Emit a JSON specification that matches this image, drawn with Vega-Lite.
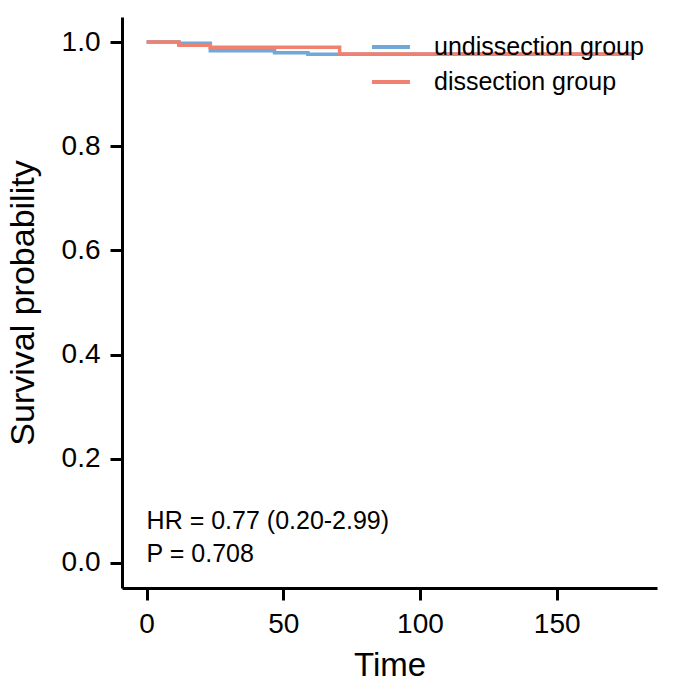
{
  "$schema": "https://vega.github.io/schema/vega-lite/v6.json",
  "width": 535,
  "height": 571,
  "autosize": "none",
  "padding": {"left": 122, "top": 17, "right": 28, "bottom": 97},
  "background": "white",
  "config": {
    "view": {"stroke": null},
    "font": "Liberation Sans",
    "axis": {
      "domainColor": "black",
      "domainWidth": 3,
      "tickColor": "black",
      "tickWidth": 3,
      "tickSize": 12,
      "grid": false,
      "labelColor": "black",
      "labelFont": "Liberation Sans",
      "labelFontSize": 28,
      "titleFont": "Liberation Sans",
      "titleFontSize": 33,
      "titleFontWeight": "normal",
      "titleColor": "black"
    }
  },
  "datasets": {
    "curves": [
      {"time": 0, "surv": 1.0, "group": "undissection group"},
      {"time": 11.8, "surv": 0.9975, "group": "undissection group"},
      {"time": 23.3, "surv": 0.983, "group": "undissection group"},
      {"time": 46.8, "surv": 0.9795, "group": "undissection group"},
      {"time": 59, "surv": 0.9763, "group": "undissection group"},
      {"time": 177.5, "surv": 0.9763, "group": "undissection group"},
      {"time": 0, "surv": 1.0, "group": "dissection group"},
      {"time": 11.8, "surv": 0.9937, "group": "dissection group"},
      {"time": 23.3, "surv": 0.9898, "group": "dissection group"},
      {"time": 70.6, "surv": 0.977, "group": "dissection group"},
      {"time": 177.5, "surv": 0.977, "group": "dissection group"}
    ],
    "notes": [
      {"time": 0, "surv": 0.0806, "label": "HR = 0.77 (0.20-2.99)"},
      {"time": 0, "surv": 0.0173, "label": "P = 0.708"}
    ]
  },
  "layer": [
    {
      "data": {"name": "curves"},
      "mark": {"type": "line", "interpolate": "step-after", "strokeWidth": 3.5},
      "encoding": {
        "x": {
          "field": "time", "type": "quantitative",
          "scale": {"domain": [-9, 186.7], "nice": false, "zero": false},
          "axis": {"values": [0, 50, 100, 150], "title": "Time", "labelPadding": 10, "titlePadding": 11}
        },
        "y": {
          "field": "surv", "type": "quantitative",
          "scale": {"domain": [-0.048, 1.048], "nice": false, "zero": false},
          "axis": {"values": [0, 0.2, 0.4, 0.6, 0.8, 1.0], "format": ".1f", "title": "Survival probability", "labelPadding": 10, "titlePadding": 21, "titleFontSize": 34}
        },
        "color": {
          "field": "group", "type": "nominal",
          "scale": {"domain": ["undissection group", "dissection group"], "range": ["#70A8D8", "#F08070"]},
          "legend": {
            "title": null,
            "orient": "none",
            "legendX": 248,
            "legendY": 9,
            "symbolType": "stroke",
            "symbolSize": 1444,
            "symbolStrokeWidth": 4,
            "labelFontSize": 25,
            "labelFont": "Liberation Sans",
            "labelColor": "black",
            "labelLimit": 400,
            "labelOffset": 22,
            "rowPadding": 1
          }
        }
      }
    },
    {
      "data": {"name": "notes"},
      "mark": {"type": "text", "align": "left", "baseline": "middle", "fontSize": 25, "font": "Liberation Sans", "color": "black"},
      "encoding": {
        "x": {"field": "time", "type": "quantitative"},
        "y": {"field": "surv", "type": "quantitative"},
        "text": {"field": "label"}
      }
    }
  ]
}
